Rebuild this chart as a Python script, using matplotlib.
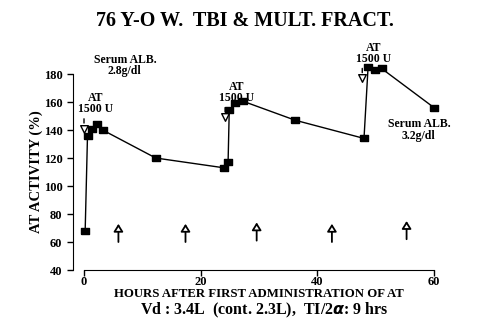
import matplotlib
matplotlib.use("Agg")
import matplotlib.pyplot as plt

plt.rcParams['font.family'] = ['Liberation Serif', 'DejaVu Serif']
plt.rcParams['font.weight'] = 'bold'

# AT activity measurements
hours = [0.2, 0.6, 1.3, 2.3, 3.2, 12.3, 24.0, 24.7, 24.9, 25.9, 27.3, 36.2, 48.0, 48.7, 49.9, 51.0, 60.0]
activity = [68, 136, 141, 144, 140, 120, 113, 117, 154, 159.5, 160.5, 147, 134, 185, 183, 184, 156]

# AT 1500 U administrations (open triangles)
dose_hours = [0.0, 24.2, 47.7]
dose_levels = [141, 149, 177]

# upward arrows at the bottom
arrow_hours = [5.9, 17.4, 29.6, 42.5, 55.3]
arrow_tips = [73, 73, 74, 73, 75]

fig = plt.figure(figsize=(5, 3.29), dpi=100)
ax = fig.add_axes([0.168, 0.1793, 0.7, 0.5957])

rect = [(-1.3, -1), (1.3, -1), (1.3, 1), (-1.3, 1), (-1.3, -1)]
ax.plot(hours, activity, color='black', lw=1, marker=rect, ms=5.5,
        mfc='black', mec='black', clip_on=False, zorder=3)

ax.scatter(dose_hours, dose_levels, marker='v', s=30, facecolors='white',
           edgecolors='black', linewidths=1, zorder=4, clip_on=False)
for h, lvl in zip(dose_hours, dose_levels):
    ax.annotate('', xy=(h, lvl + 2), xytext=(h, lvl + 9),
                arrowprops=dict(arrowstyle='-', color='black', lw=1),
                annotation_clip=False)
    ax.text(h + 2.0, lvl + 9.5, 'AT\n1500 U', ha='center', va='bottom',
            fontsize=8.5, fontweight='bold', linespacing=0.9)

for h, tip in zip(arrow_hours, arrow_tips):
    ax.annotate('', xy=(h, tip), xytext=(h, tip - 13),
                arrowprops=dict(arrowstyle='-|>,head_width=0.28,head_length=0.45',
                                fc='white', ec='black', lw=1.3, shrinkA=0, shrinkB=0))

ax.text(7.0, 186, 'Serum ALB.\n2.8g/dl', ha='center', va='center',
        fontsize=8.5, fontweight='bold', linespacing=0.9)
ax.text(57.4, 140, 'Serum ALB.\n3.2g/dl', ha='center', va='center',
        fontsize=8.5, fontweight='bold', linespacing=0.9)

ax.set_xlim(0, 60)
ax.set_ylim(40, 180)
ax.set_xticks([0, 20, 40, 60])
ax.set_yticks(range(40, 181, 20))
ax.spines['top'].set_visible(False)
ax.spines['right'].set_visible(False)
ax.spines['left'].set_position(('outward', 8))
ax.tick_params(labelsize=9, length=4, width=1)
ax.tick_params(axis='x', pad=0.5)
for lab in ax.get_xticklabels() + ax.get_yticklabels():
    lab.set_fontweight('bold')

ax.set_ylabel('AT ACTIVITY (%)', fontsize=10.5, fontweight='bold')
ax.yaxis.set_label_coords(-0.117, 0.5)
ax.set_xlabel('HOURS AFTER FIRST ADMINISTRATION OF AT', fontsize=9.2,
              fontweight='bold', labelpad=0)
fig.text(0.528, 0.058, r'Vd : 3.4L  (cont. 2.3L),  TI/2$\alpha$: 9 hrs',
         ha='center', va='center', fontsize=11.5, fontweight='bold')
fig.text(0.49, 0.935, '76 Y-O W.  TBI & MULT. FRACT.', ha='center', va='center',
         fontsize=14.5, fontweight='bold')

fig.savefig('out.png', dpi=100)
